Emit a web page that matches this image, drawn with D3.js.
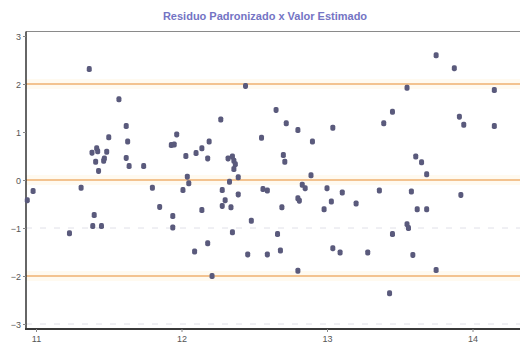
<!DOCTYPE html>
<html>
<head>
<meta charset="utf-8">
<script src="https://cdn.jsdelivr.net/npm/d3@7/dist/d3.min.js"></script>
<style>
  html, body { margin: 0; padding: 0; background: #fff; }
  svg { display: block; }
</style>
</head>
<body>
<svg id="chart" width="520" height="347"></svg>
<script>
// Fitted values (x) and standardized residuals (y)
const fitted = [
  10.98, 10.94, 11.23, 11.31, 11.366, 11.385, 11.417, 11.424, 11.41, 11.43,
  11.47, 11.465, 11.486, 11.50, 11.40, 11.39, 11.45, 11.57, 11.62, 11.63,
  11.62, 11.64, 11.74, 11.80, 11.85, 11.93, 11.95, 11.967, 11.94, 11.94,
  12.01, 12.03, 12.04, 12.05, 12.10, 12.14, 12.18, 12.19, 12.14, 12.18,
  12.09, 12.21, 12.27, 12.32, 12.35, 12.36, 12.37, 12.36, 12.39, 12.33,
  12.28, 12.39, 12.30, 12.28, 12.34, 12.35, 12.44, 12.48, 12.455, 12.55,
  12.56, 12.59, 12.59, 12.65, 12.70, 12.71, 12.69, 12.66, 12.68, 12.72,
  12.80, 12.80, 12.81, 12.80, 12.83, 12.85, 12.89, 12.90, 13.00, 13.03,
  12.98, 13.04, 13.04, 13.09, 13.105, 13.20, 13.28, 13.36, 13.39, 13.45,
  13.45, 13.43, 13.55, 13.55, 13.56, 13.58, 13.59, 13.61, 13.65, 13.685,
  13.62, 13.685, 13.75, 13.75, 13.875, 13.91, 13.94, 13.92, 14.15, 14.15
];
const residuals = [
  -0.23, -0.42, -1.11, -0.16, 2.31, 0.57, 0.66, 0.60, 0.38, 0.19,
  0.45, 0.40, 0.59, 0.89, -0.73, -0.96, -0.96, 1.68, 1.125, 0.80,
  0.46, 0.29, 0.29, -0.16, -0.56, 0.73, 0.74, 0.95, -0.75, -0.99,
  -0.21, 0.50, 0.07, -0.07, 0.56, 0.66, 0.45, 0.80, -0.625, -1.32,
  -1.49, -2.00, 1.26, 0.45, 0.49, 0.40, 0.33, 0.23, 0.055, -0.035,
  -0.21, -0.30, -0.42, -0.54, -0.57, -1.09, 1.96, -0.85, -1.55, 0.88,
  -0.19, -0.22, -1.55, 1.46, 0.52, 0.38, -0.57, -1.125, -1.47, 1.18,
  1.04, -0.38, -0.43, -1.89, -0.10, -0.17, 0.10, 0.80, -0.17, -0.45,
  -0.61, 1.09, -1.42, -1.51, -0.26, -0.49, -1.51, -0.22, 1.18, 1.42,
  -1.125, -2.36, 1.92, -0.92, -1.00, -0.24, -1.56, 0.49, 0.37, 0.12,
  -0.61, -0.61, 2.60, -1.875, 2.33, 1.32, 1.15, -0.31, 1.875, 1.125
];
const xTicks = [11, 12, 13, 14];
const yTicks = [3, 2, 1, 0, -1, -2, -3];
const refLevels = [2, 0, -2];
const faintLevels = [-1, -3];
const title = "Residuo Padronizado x Valor Estimado";

const svg = d3.select("#chart");
const W = 520, H = 347;
const plot = { left: 26, right: 520, top: 31.5, bottom: 329 };

const x = d3.scaleLinear().domain([11, 14]).range([36, 472.5]);
const y = d3.scaleLinear().domain([-3, 3]).range([324, 36]);

svg.append("rect").attr("width", W).attr("height", H).attr("fill", "#fff");

// title
svg.append("text")
  .attr("x", 265).attr("y", 20)
  .attr("text-anchor", "middle")
  .attr("font-family", "Liberation Sans, Arial, sans-serif")
  .attr("font-size", 11)
  .attr("font-weight", "bold")
  .attr("fill", "#7474c4")
  .text(title);

// faint dashed guides
svg.selectAll("line.faint").data(faintLevels).join("line")
  .attr("class", "faint")
  .attr("x1", plot.left).attr("x2", plot.right)
  .attr("y1", d => y(d)).attr("y2", d => y(d))
  .attr("stroke", "#e0e0e8").attr("stroke-width", 1)
  .attr("stroke-dasharray", "6,8");

// soft band + reference lines
svg.selectAll("rect.band").data(refLevels).join("rect")
  .attr("class", "band")
  .attr("x", plot.left).attr("width", plot.right - plot.left)
  .attr("y", d => y(d) - 5).attr("height", 10)
  .attr("fill", "#fff8ea").attr("opacity", 0.7);
svg.selectAll("line.ref").data(refLevels).join("line")
  .attr("class", "ref")
  .attr("x1", plot.left).attr("x2", plot.right)
  .attr("y1", d => y(d)).attr("y2", d => y(d))
  .attr("stroke", "#efb070").attr("stroke-width", 1.3);

// frame
svg.append("line")
  .attr("x1", plot.left).attr("x2", plot.right)
  .attr("y1", plot.top).attr("y2", plot.top)
  .attr("stroke", "#8a8a8a").attr("stroke-width", 1);
svg.append("line")
  .attr("x1", plot.left).attr("x2", plot.left)
  .attr("y1", plot.top).attr("y2", plot.bottom)
  .attr("stroke", "#333").attr("stroke-width", 1.5);
svg.append("line")
  .attr("x1", plot.left - 1).attr("x2", plot.right)
  .attr("y1", plot.bottom).attr("y2", plot.bottom)
  .attr("stroke", "#3a3a3a").attr("stroke-width", 2);

// y axis
const yAxis = d3.axisLeft(y).tickValues(yTicks).tickSize(3).tickFormat(d3.format("d"));
const gy = svg.append("g").attr("transform", `translate(${plot.left},0)`).call(yAxis);
gy.select(".domain").remove();
gy.selectAll(".tick line").attr("stroke", "#888");
gy.selectAll(".tick text")
  .attr("x", -5).attr("dy", "0.4em")
  .attr("font-family", "Liberation Sans, Arial, sans-serif")
  .attr("font-size", 9).attr("fill", "#555");

// x axis
const xAxis = d3.axisBottom(x).tickValues(xTicks).tickSize(3).tickFormat(d3.format("d"));
const gx = svg.append("g").attr("transform", `translate(0,${plot.bottom})`).call(xAxis);
gx.select(".domain").remove();
gx.selectAll(".tick line").attr("stroke", "#888");
gx.selectAll(".tick text")
  .attr("y", 7)
  .attr("font-family", "Liberation Sans, Arial, sans-serif")
  .attr("font-size", 9).attr("fill", "#555");

// points
const pts = fitted.map((f, i) => ({ f, r: residuals[i] }));
svg.append("g").selectAll("rect").data(pts).join("rect")
  .attr("x", d => x(d.f) - 2.5).attr("y", d => y(d.r) - 3)
  .attr("width", 5).attr("height", 6)
  .attr("rx", 1.8)
  .attr("fill", "#5a5a7c");
</script>
</body>
</html>
